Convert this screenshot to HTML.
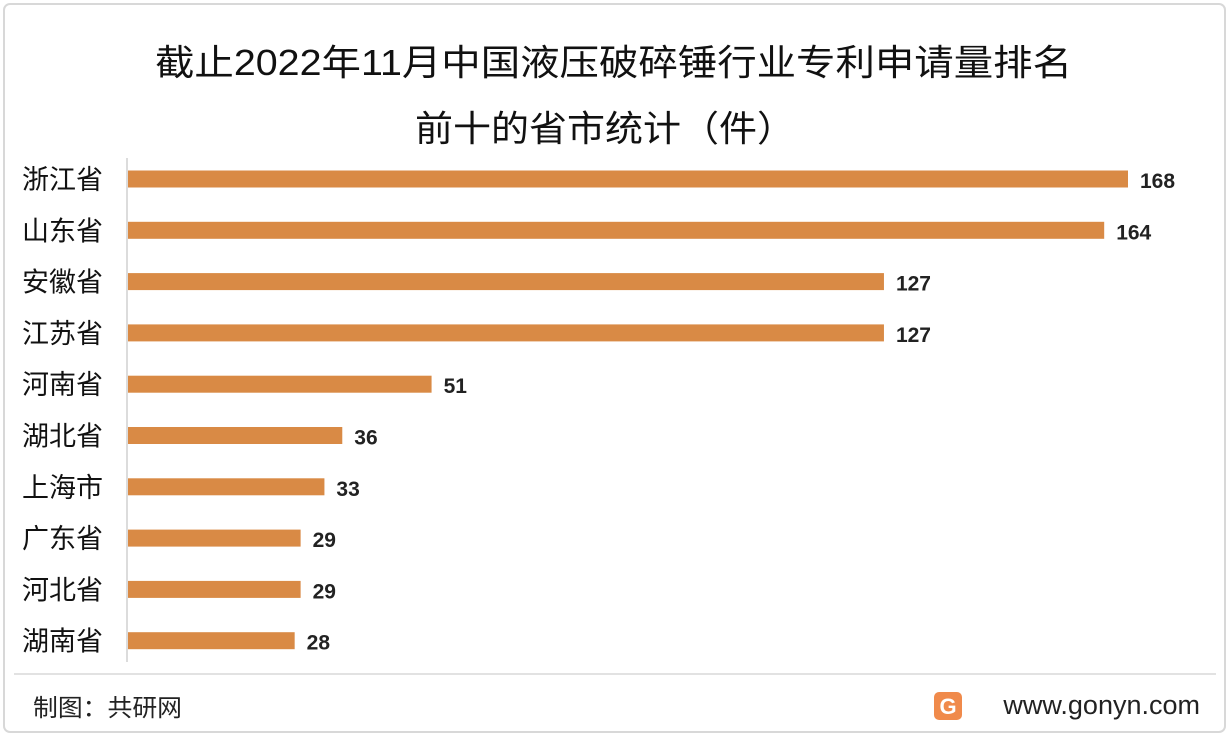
<!DOCTYPE html>
<html><head><meta charset="utf-8"><style>
body{margin:0;background:#fff;}
#wrap{position:relative;width:1230px;height:738px;overflow:hidden;font-family:"Liberation Sans","Noto Sans CJK SC",sans-serif;}
</style></head><body>
<div id="wrap">
<svg id="chart" width="1230" height="738" xmlns="http://www.w3.org/2000/svg">
<rect x="4" y="4" width="1221" height="728" rx="6" fill="#fff" stroke="#d8d8d8" stroke-width="2"/>
<text x="155" y="75" font-size="36" textLength="917" lengthAdjust="spacingAndGlyphs" fill="#111" font-family="Liberation Sans, Noto Sans CJK SC, sans-serif">截止2022年11月中国液压破碎锤行业专利申请量排名</text>
<text x="415" y="141" font-size="36" textLength="380" lengthAdjust="spacingAndGlyphs" fill="#111" font-family="Liberation Sans, Noto Sans CJK SC, sans-serif">前十的省市统计（件）</text>
<line x1="127" y1="158" x2="127" y2="662" stroke="#d0d0d0" stroke-width="1.5"/>
<g id="bars"></g>
<line x1="14" y1="674" x2="1216" y2="674" stroke="#d8d8d8" stroke-width="1.5"/>
<text x="33" y="716" font-size="24" textLength="149" lengthAdjust="spacingAndGlyphs" fill="#222" font-family="Liberation Sans, Noto Sans CJK SC, sans-serif">制图：共研网</text>
<g>
<rect x="934" y="692" width="28" height="28" rx="5" fill="#f08a4b"/>
<text x="948" y="714" text-anchor="middle" font-size="22" font-weight="bold" fill="#fff">G</text>
</g>
<text x="1200" y="714" text-anchor="end" font-size="27" fill="#222">www.gonyn.com</text>
</svg>
</div>
<script>
const categories=["浙江省","山东省","安徽省","江苏省","河南省","湖北省","上海市","广东省","河北省","湖南省"];
const values=[168,164,127,127,51,36,33,29,29,28];
const xMax=168;
const NS="http://www.w3.org/2000/svg";
const g=document.getElementById('bars');
const x0=128,x1=1128,yTop=179,step=51.3,bh=17;
function xs(v){return x0+(x1-x0)*v/xMax;}
function ys(i){return yTop+i*step;}
categories.forEach((c,i)=>{
  const y=ys(i);
  const t=document.createElementNS(NS,'text');
  t.setAttribute('x',22);t.setAttribute('y',y+10);t.setAttribute('font-size','27');t.setAttribute('fill','#111');
  t.setAttribute('font-family','Liberation Sans, Noto Sans CJK SC, sans-serif');
  
  
  t.textContent=c;g.appendChild(t);
  const r=document.createElementNS(NS,'rect');
  r.setAttribute('x',x0);r.setAttribute('y',y-bh/2);r.setAttribute('width',xs(values[i])-x0);r.setAttribute('height',bh);r.setAttribute('fill','#d98a45');
  
  
  g.appendChild(r);
  const v=document.createElementNS(NS,'text');
  v.setAttribute('x',xs(values[i])+12);v.setAttribute('y',y+9);v.setAttribute('font-size','21');v.setAttribute('font-weight','bold');v.setAttribute('fill','#222');
  
  
  v.textContent=values[i];g.appendChild(v);
});
</script>
</body></html>
